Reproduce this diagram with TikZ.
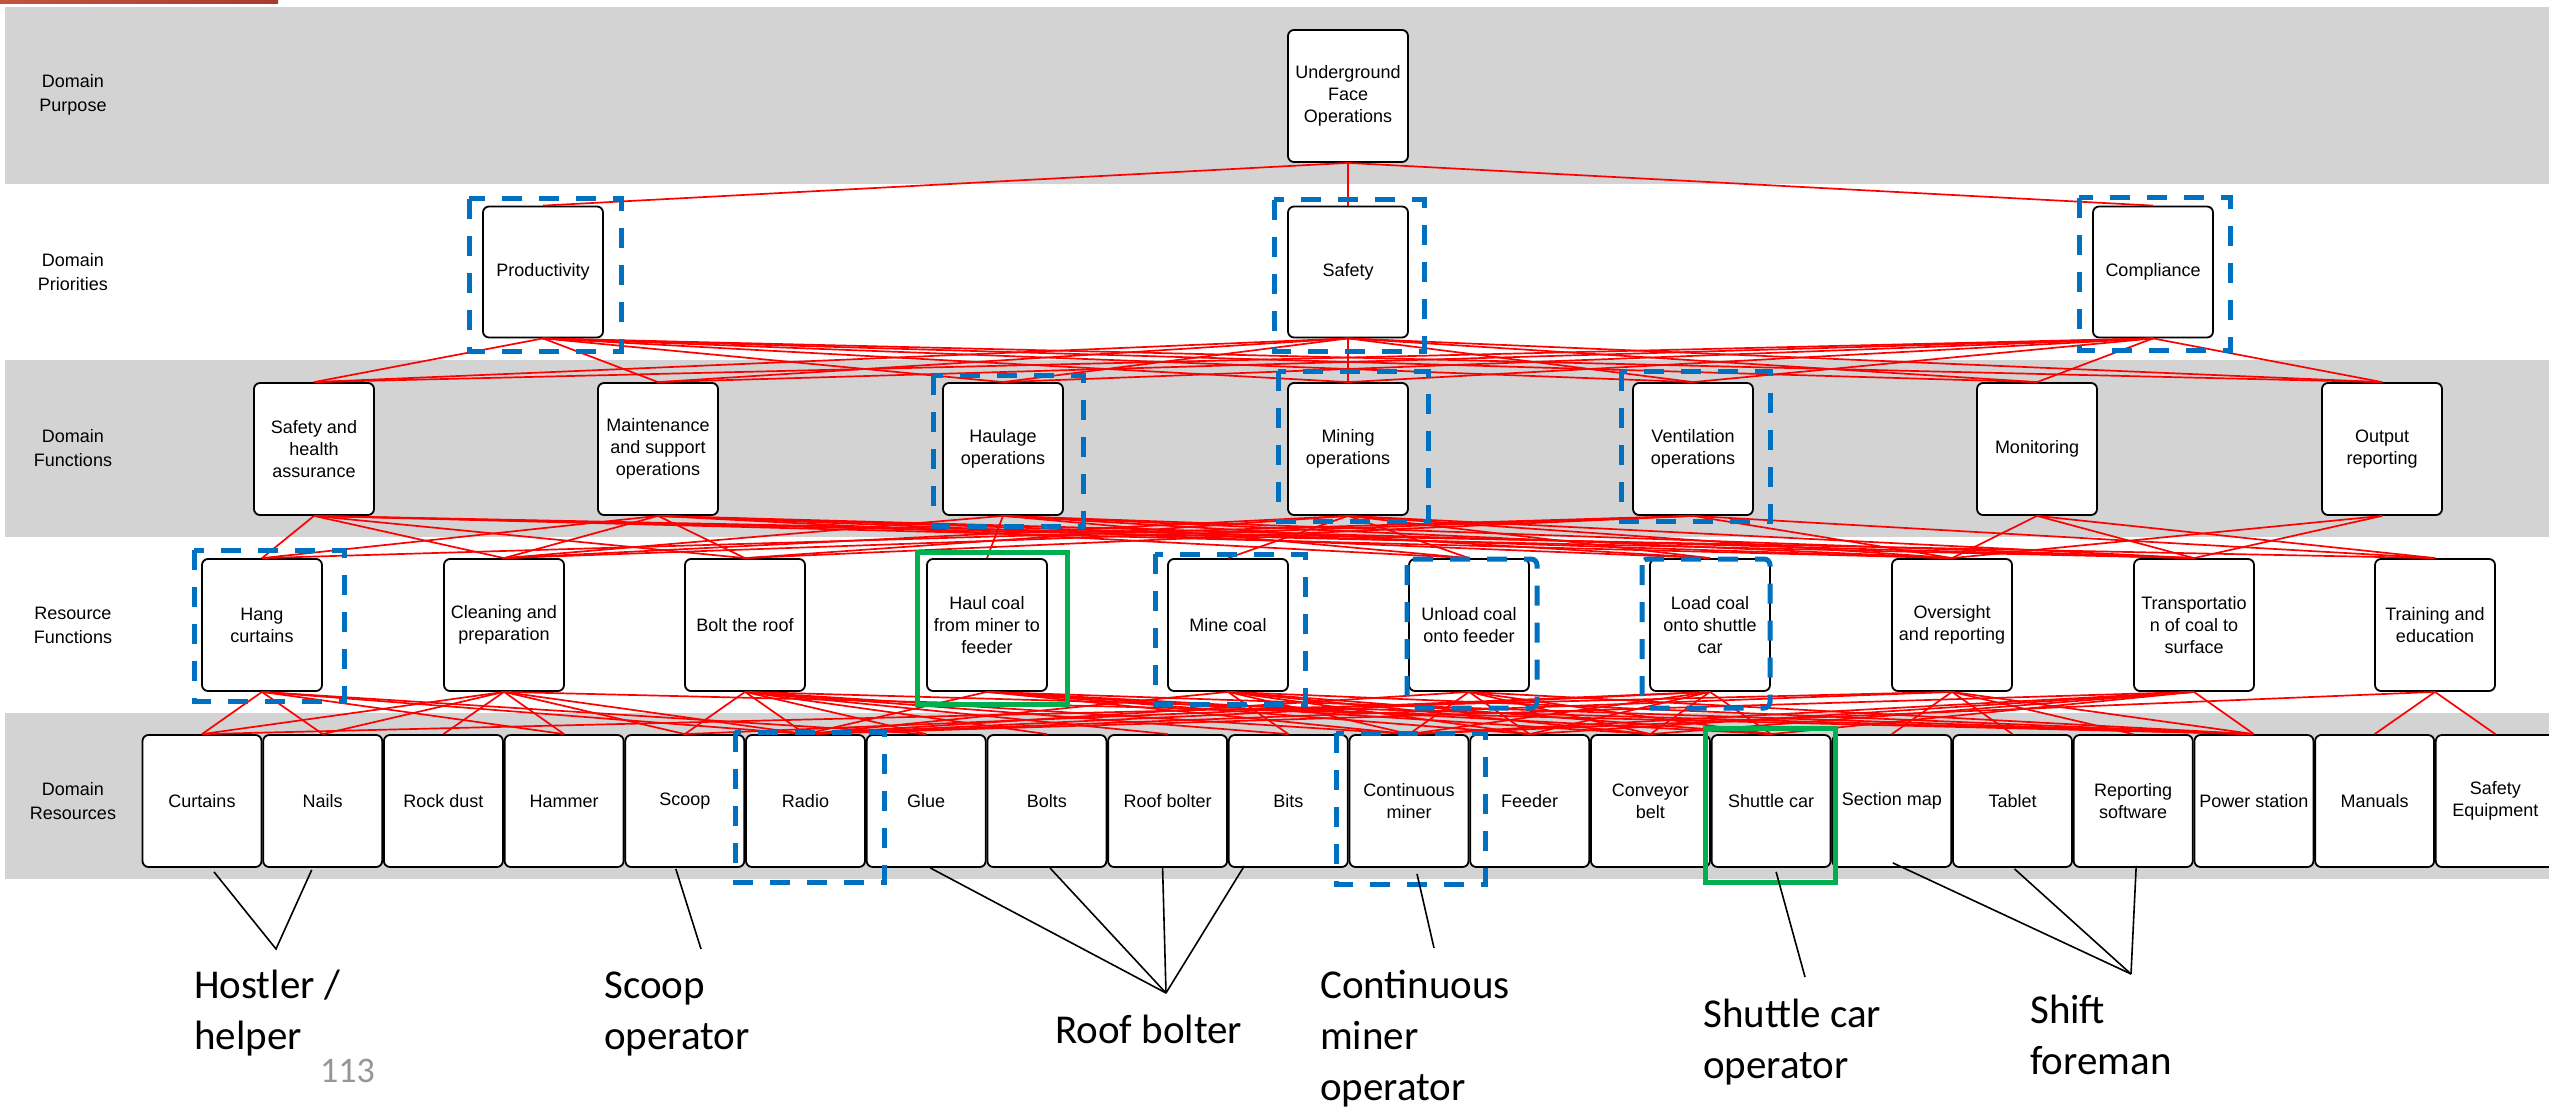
\documentclass[tikz,border=0pt]{standalone}
\usepackage{fontspec}
\setmainfont{Liberation Sans}
\newfontfamily\calib{Carlito}
\usetikzlibrary{calc}
\definecolor{bandgray}{RGB}{211,211,211}
\definecolor{hlblue}{RGB}{0,112,192}
\definecolor{hlgreen}{RGB}{0,176,80}
\definecolor{linkred}{RGB}{255,0,0}
\definecolor{barredA}{RGB}{196,84,62}
\definecolor{barredB}{RGB}{170,58,48}
\definecolor{pagegray}{RGB}{150,150,150}
\begin{document}
\begin{tikzpicture}[x=1pt,y=-1pt,
  box/.style={draw=black, line width=1.8pt, fill=white, rounded corners=6pt, inner sep=0pt, align=center,
              minimum width=120pt, minimum height=131pt, font=\fontsize{18}{22}\selectfont},
  resbox/.style={box, minimum width=119pt, minimum height=132pt},
  rowlabel/.style={align=center, font=\fontsize{18}{24}\selectfont, inner sep=0pt},
  link/.style={draw=linkred, line width=1.7pt},
  bluedash/.style={draw=hlblue, line width=5pt, dash pattern=on 20pt off 17pt},
  greenbox/.style={draw=hlgreen, line width=5pt},
  pointer/.style={draw=black, line width=1.6pt},
  anno/.style={font=\calib\fontsize{41}{51}\selectfont, inner sep=0pt, anchor=base west},
]
\clip (0,0) rectangle (2549,1107);
\fill[white] (0,0) rectangle (2549,1107);
% title bar remnant
\shade[left color=barredA, right color=barredB] (0,0) rectangle (278,4);
% bands
\fill[bandgray] (5,7) rectangle (2549,184);
\fill[bandgray] (5,360) rectangle (2549,537);
\fill[bandgray] (5,713) rectangle (2549,879);

% row labels
\node[rowlabel] (lpur) at (73,95) {Domain\\Purpose};
\node[rowlabel] (lpri) at (73,272) {Domain\\Priorities};
\node[rowlabel] (lfun) at (73,448) {Domain\\Functions};
\node[rowlabel] (lrfu) at (73,625) {Resource\\Functions};
\node[rowlabel] (lres) at (73,801) {Domain\\Resources};

% purpose
\node[box, minimum height=132pt] (ufo) at (1348,96) {Underground\\Face\\Operations};
% priorities
\node[box] (prod) at (543,272) {Productivity};
\node[box] (saf) at (1348,272) {Safety};
\node[box] (comp) at (2153,272) {Compliance};
% domain functions
\node[box, minimum height=132pt] (f1) at (314,449) {Safety and\\health\\assurance};
\node[box, minimum height=132pt] (f2) at (658,449) {Maintenance\\and support\\operations};
\node[box, minimum height=132pt] (f3) at (1003,449) {Haulage\\operations};
\node[box, minimum height=132pt] (f4) at (1348,449) {Mining\\operations};
\node[box, minimum height=132pt] (f5) at (1693,449) {Ventilation\\operations};
\node[box, minimum height=132pt] (f6) at (2037,449) {Monitoring};
\node[box, minimum height=132pt] (f7) at (2382,449) {Output\\reporting};
% resource functions
\node[box, minimum height=132pt] (g1) at (262,625) {Hang\\curtains};
\node[box, minimum height=132pt] (g2) at (504,625) {Cleaning and\\preparation};
\node[box, minimum height=132pt] (g3) at (745,625) {Bolt the roof};
\node[box, minimum height=132pt] (g4) at (987,625) {Haul coal\\from miner to\\feeder};
\node[box, minimum height=132pt] (g5) at (1228,625) {Mine coal};
\node[box, minimum height=132pt] (g6) at (1469,625) {Unload coal\\onto feeder};
\node[box, minimum height=132pt] (g7) at (1710,625) {Load coal\\onto shuttle\\car};
\node[box, minimum height=132pt] (g8) at (1952,625) {Oversight\\and reporting};
\node[box, minimum height=132pt] (g9) at (2194,625) {Transportatio\\n of coal to\\surface};
\node[box, minimum height=132pt] (g10) at (2435,625) {Training and\\education};
% domain resources
\foreach \t [count=\i from 0] in {Curtains, Nails, Rock dust, Hammer, Scoop, Radio, Glue, Bolts, Roof bolter, Bits,
   {Continuous\\miner}, Feeder, {Conveyor\\belt}, Shuttle car, Section map, Tablet, {Reporting\\software},
   Power station, Manuals, {Safety\\Equipment}}
  \node[resbox] (r\i) at ({202+120.7*\i},801) {\t};

% links purpose -> priorities
\foreach \b in {prod,saf,comp} \draw[link] (ufo.south) -- (\b.north);
% priorities -> functions
\foreach \a in {prod,saf,comp}
  \foreach \b in {f1,f2,f3,f4,f5,f6,f7}
    \draw[link] (\a.south) -- (\b.north);
% functions -> resource functions
\foreach \a/\b in {f1/g1,f1/g2,f1/g3,f1/g8,f1/g10,f1/g9,
                   f2/g1,f2/g2,f2/g3,f2/g8,f2/g9,f2/g6,f2/g7,
                   f3/g4,f3/g6,f3/g7,f3/g8,f3/g9,f3/g2,
                   f4/g5,f4/g6,f4/g7,f4/g3,f4/g8,f4/g9,f4/g2,
                   f5/g1,f5/g2,f5/g8,f5/g10,f5/g3,
                   f6/g8,f6/g9,f6/g10,
                   f7/g8,f7/g9}
  \draw[link] (\a.south) -- (\b.north);
% resource functions -> resources
\foreach \a/\b in {g1/r0,g1/r1,g1/r3,g1/r5,g1/r6,
                   g2/r0,g2/r1,g2/r2,g2/r3,g2/r4,g2/r5,g2/r17,
                   g3/r5,g3/r6,g3/r7,g3/r8,g3/r9,g3/r17,g3/r4,g3/r10,
                   g4/r5,g4/r10,g4/r11,g4/r13,g4/r12,g4/r17,
                   g5/r5,g5/r9,g5/r10,g5/r12,g5/r17,g5/r11,g5/r13,
                   g6/r11,g6/r12,g6/r13,g6/r17,g6/r10,g6/r5,
                   g7/r4,g7/r5,g7/r10,g7/r13,g7/r11,g7/r12,
                   g8/r5,g8/r14,g8/r15,g8/r16,g8/r0,g8/r17,
                   g9/r11,g9/r12,g9/r17,g9/r5,g9/r13,g9/r10,
                   g10/r18,g10/r19,g10/r10}
  \draw[link] (\a.south) -- (\b.north);

% highlights
\draw[bluedash] (469,199) rectangle (621,351);
\draw[bluedash] (1274,200) rectangle (1424,351);
\draw[bluedash] (2079,198) rectangle (2230,350);
\draw[bluedash] (933,375) rectangle (1083,526);
\draw[bluedash] (1278,371) rectangle (1428,521);
\draw[bluedash] (1621,371) rectangle (1770,521);
\draw[bluedash] (194,550) rectangle (344,701);
\draw[bluedash] (1155,554) rectangle (1305,704);
\draw[bluedash, rounded corners=6pt] (1407,559) rectangle (1537,708);
\draw[bluedash, rounded corners=6pt] (1642,559) rectangle (1770,708);
\draw[bluedash] (735,732) rectangle (884,882);
\draw[bluedash] (1336,733) rectangle (1485,884);
\draw[greenbox] (917,552) rectangle (1067,704);
\draw[greenbox] (1705,728) rectangle (1835,882);

% role annotations
\coordinate (hv) at (276,949);
\draw[pointer] ($(r0.south)+(12,4)$) -- (hv) -- ($(r1.south)+(-11,2)$);
\node[anno] (hostler) at (194,998) {\begin{tabular}[t]{@{}l@{}}Hostler /\\helper\end{tabular}};

\coordinate (sv) at (701,949);
\draw[pointer] ($(r4.south)+(-9,1)$) -- (sv);
\node[anno] (scoopop) at (604,998) {\begin{tabular}[t]{@{}l@{}}Scoop\\operator\end{tabular}};

\coordinate (rbv) at (1166,993);
\draw[pointer] ($(r6.south)+(4,0)$) -- (rbv);
\draw[pointer] ($(r7.south)+(3,0)$) -- (rbv);
\draw[pointer] ($(r8.south)+(-5,0)$) -- (rbv);
\draw[pointer] ($(r9.south)+(-44,-2)$) -- (rbv);
\node[anno] (roofop) at (1055,1043) {Roof bolter};

\coordinate (cmv) at (1434,948);
\draw[pointer] ($(r10.south)+(8,6)$) -- (cmv);
\node[anno] (cmop) at (1320,998) {\begin{tabular}[t]{@{}l@{}}Continuous\\miner\\operator\end{tabular}};

\coordinate (scv) at (1805,977);
\draw[pointer] ($(r13.south)+(5,4)$) -- (scv);
\node[anno] (scop) at (1703,1027) {\begin{tabular}[t]{@{}l@{}}Shuttle car\\operator\end{tabular}};

\coordinate (sfv) at (2131,974);
\draw[pointer] ($(r14.south)+(1,-5)$) -- (sfv);
\draw[pointer] ($(r15.south)+(2,1)$) -- (sfv);
\draw[pointer] ($(r16.south)+(3,-2)$) -- (sfv);
\node[anno] (sfop) at (2030,1023) {\begin{tabular}[t]{@{}l@{}}Shift\\foreman\end{tabular}};

\node[font=\calib\fontsize{36}{40}\selectfont, text=pagegray, anchor=base west, inner sep=0pt] (pgnum) at (320,1082) {113};
\end{tikzpicture}
\end{document}
